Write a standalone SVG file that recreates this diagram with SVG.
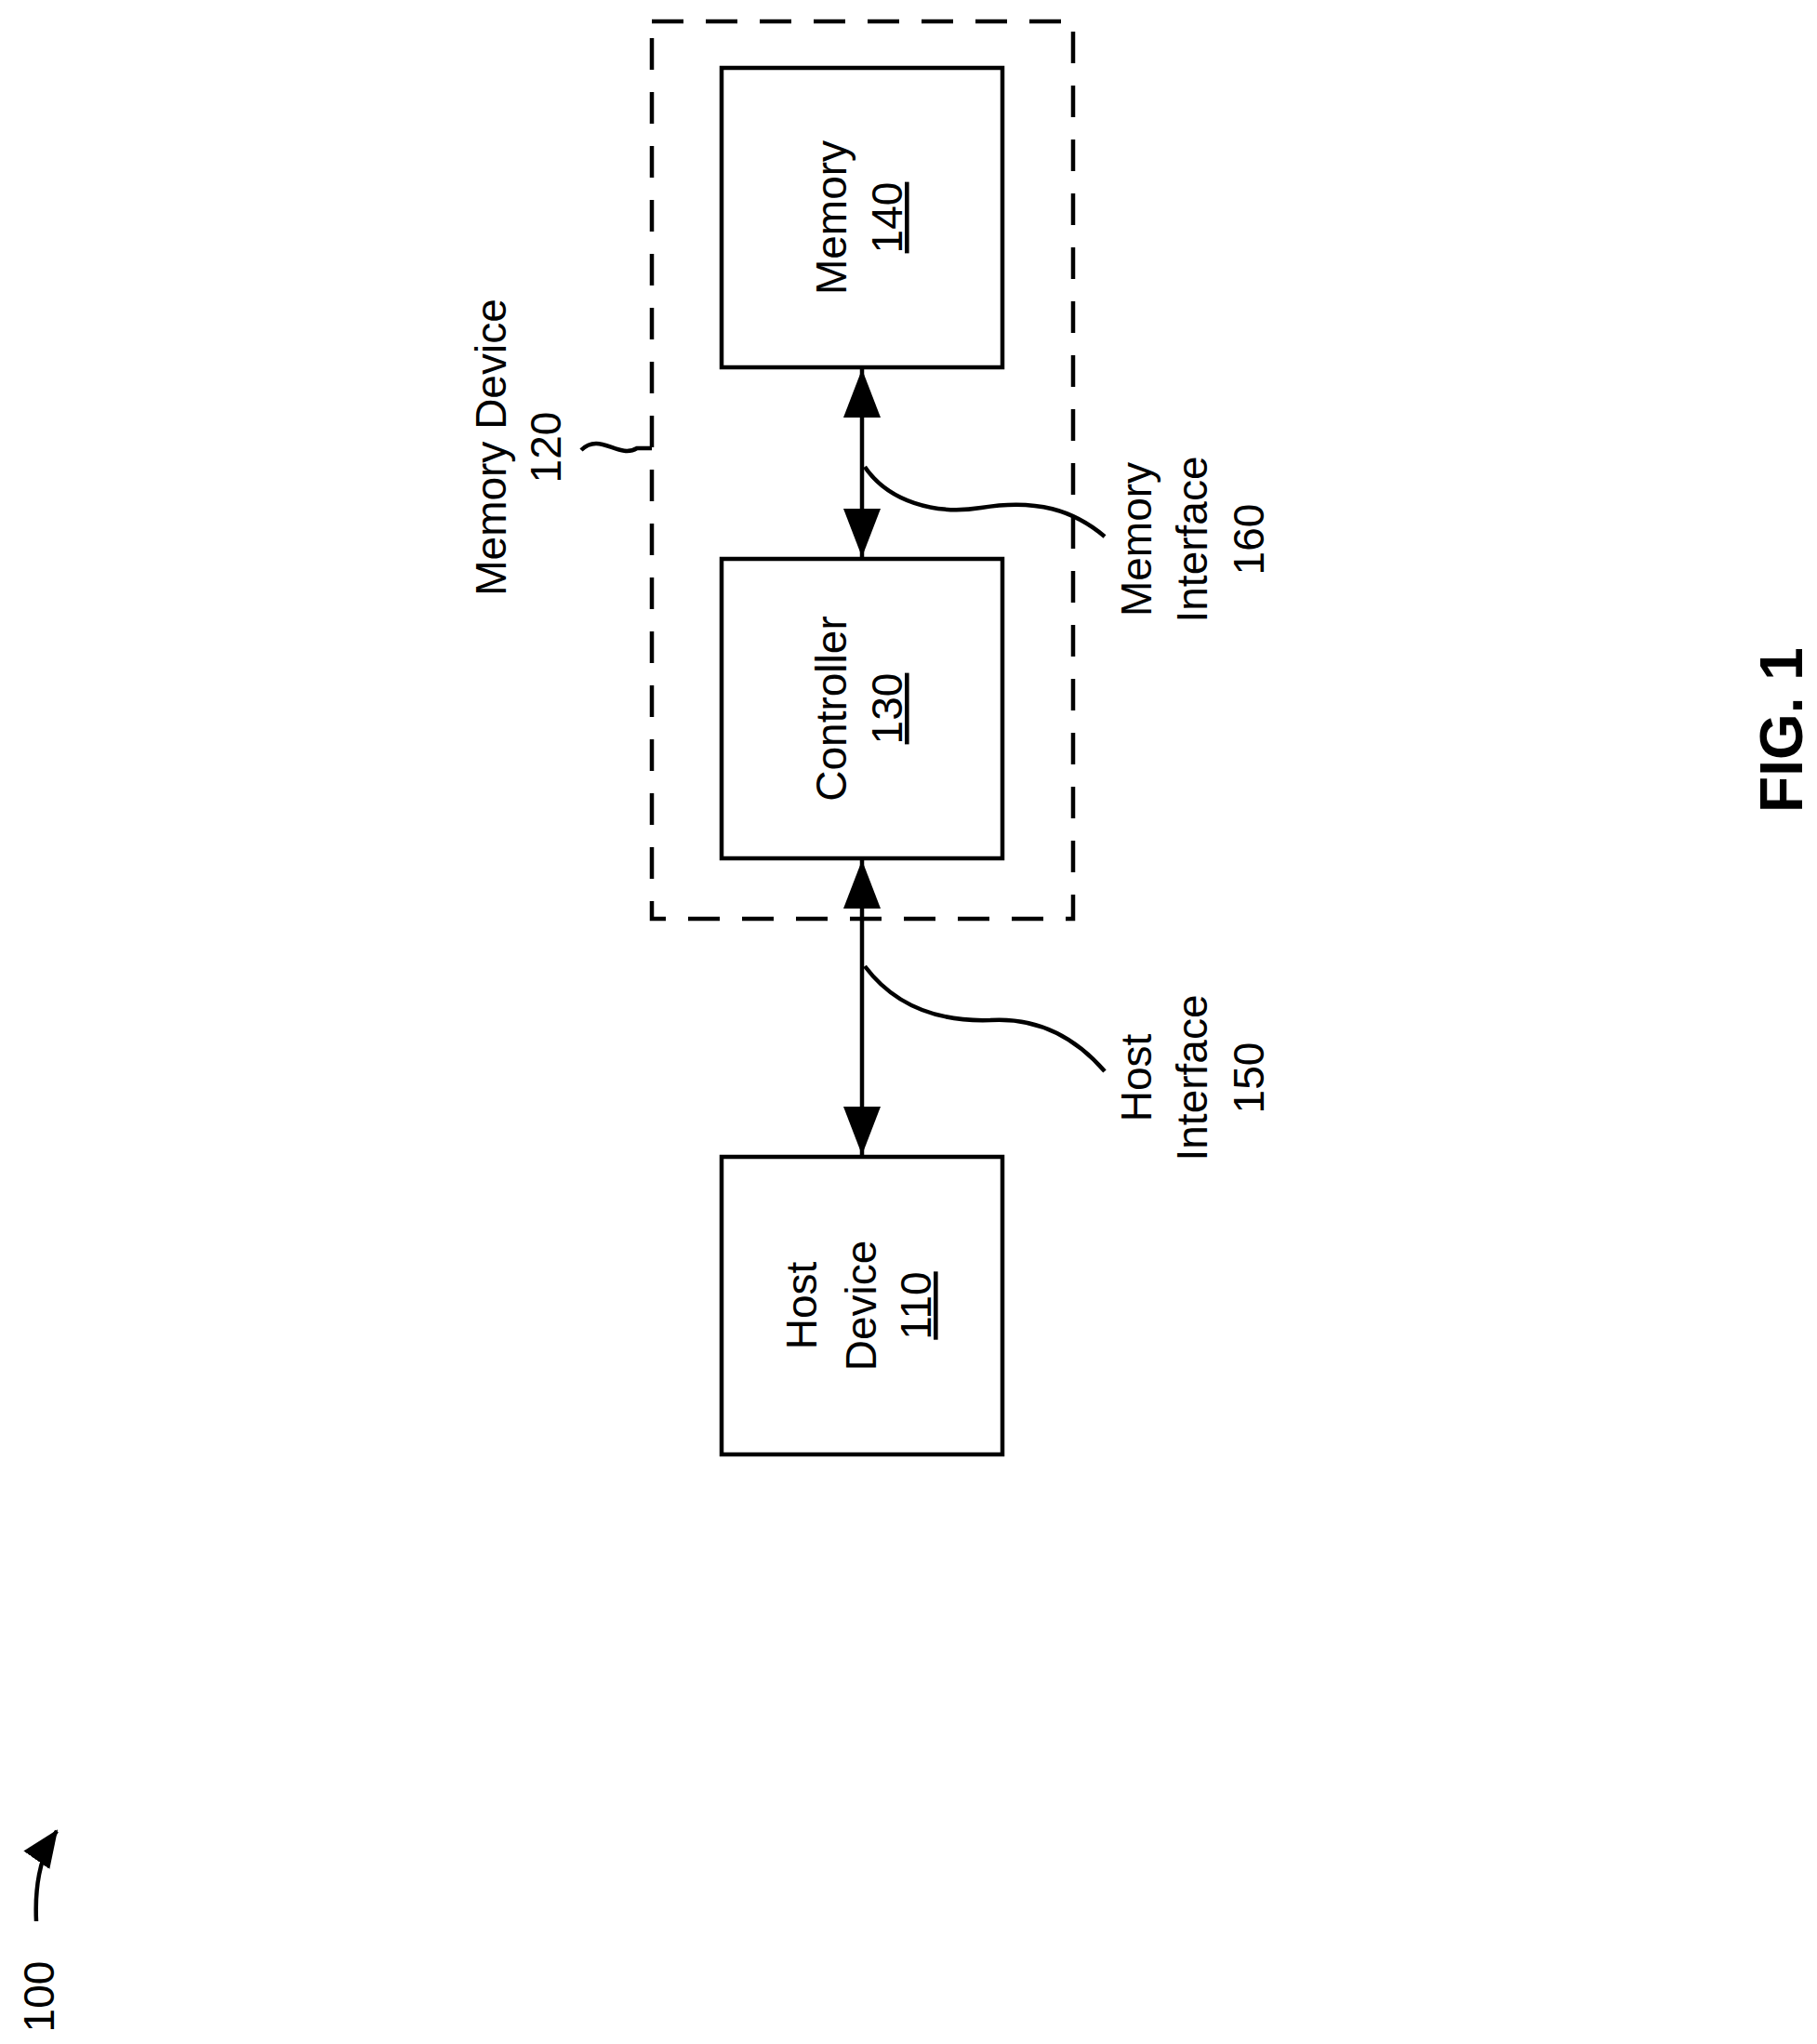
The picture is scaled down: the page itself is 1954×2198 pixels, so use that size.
<svg xmlns="http://www.w3.org/2000/svg" width="1954" height="2198" viewBox="0 0 1954 2198">
<style>
text{font-family:"Liberation Sans",Arial,sans-serif;font-size:46px;text-anchor:middle;fill:#000}
.box{fill:#fff;stroke:#000;stroke-width:4.5}
.ln{fill:none;stroke:#000;stroke-width:4.5}
.u{text-decoration:underline}
</style>
<defs>
<marker id="ah" viewBox="0 0 52 40" refX="52" refY="20" markerWidth="52" markerHeight="40" orient="auto-start-reverse" markerUnits="userSpaceOnUse">
<path d="M0,0 L52,20 L0,40 z" fill="#000"/>
</marker>
<marker id="ah2" viewBox="0 0 40 34" refX="38" refY="17" markerWidth="40" markerHeight="34" orient="auto" markerUnits="userSpaceOnUse">
<path d="M0,0 L40,17 L0,34 z" fill="#000"/>
</marker>
</defs>
<rect x="0" y="0" width="1954" height="2198" fill="#fff"/>
<g transform="translate(-5,-6)">
<g id="memory-device">
<rect x="706" y="29" width="453" height="965" fill="none" stroke="#000" stroke-width="4.5" stroke-dasharray="34,24"/>
<text transform="translate(549,487) rotate(-90)">Memory Device</text>
<text transform="translate(608,487) rotate(-90)">120</text>
<path class="ln" d="M630,490 C650,470 670,500 690,488 L706,488"/>
</g>
<g id="memory">
<rect class="box" x="781" y="79" width="302" height="322"/>
<text transform="translate(915,240) rotate(-90)">Memory</text>
<text class="u" transform="translate(975,240) rotate(-90)">140</text>
</g>
<g id="controller">
<rect class="box" x="781" y="607" width="302" height="322"/>
<text transform="translate(915,768) rotate(-90)">Controller</text>
<text class="u" transform="translate(975,768) rotate(-90)">130</text>
</g>
<g id="host">
<rect class="box" x="781" y="1250" width="302" height="320"/>
<text transform="translate(883,1410) rotate(-90)">Host</text>
<text transform="translate(947,1410) rotate(-90)">Device</text>
<text class="u" transform="translate(1006,1410) rotate(-90)">110</text>
</g>
<g id="connectors">
<line class="ln" x1="932" y1="403" x2="932" y2="605" marker-start="url(#ah)" marker-end="url(#ah)"/>
<line class="ln" x1="932" y1="931" x2="932" y2="1248" marker-start="url(#ah)" marker-end="url(#ah)"/>
<path class="ln" d="M935,508 C960,545 1010,560 1060,552 C1120,542 1160,555 1193,583"/>
<path class="ln" d="M935,1045 C965,1085 1010,1105 1070,1103 C1120,1100 1160,1120 1193,1158"/>
<path class="ln" d="M44,2072 C42,2030 50,1998 66,1975" marker-end="url(#ah2)"/>
</g>
<g id="labels">
<text transform="translate(1243,586) rotate(-90)">Memory</text>
<text transform="translate(1303,586) rotate(-90)">Interface</text>
<text transform="translate(1364,586) rotate(-90)">160</text>
<text transform="translate(1243,1165) rotate(-90)">Host</text>
<text transform="translate(1303,1165) rotate(-90)">Interface</text>
<text transform="translate(1364,1165) rotate(-90)">150</text>
<text transform="translate(63,2153) rotate(-90)">100</text>
<text transform="translate(1943,791) rotate(-90)" style="font-weight:bold;font-size:64px">FIG. 1</text>
</g>
</g>
</svg>
